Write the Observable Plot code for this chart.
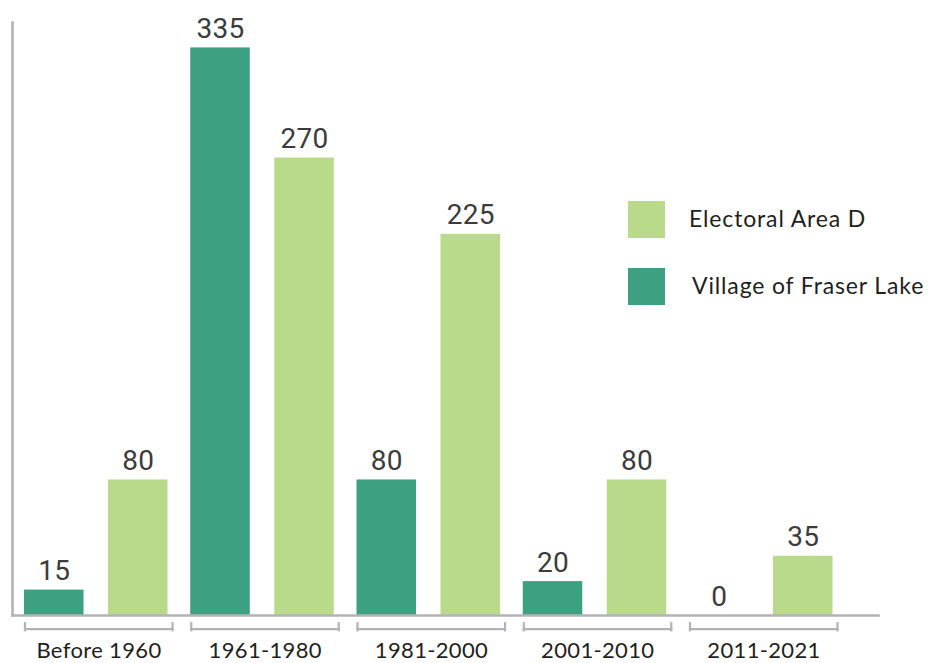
<!DOCTYPE html>
<html><head><meta charset="utf-8">
<script src="https://cdn.jsdelivr.net/npm/d3@7"></script>
<script src="https://cdn.jsdelivr.net/npm/@observablehq/plot@0.6"></script>
<style>
body{margin:0;background:#fff;}
#wrap{position:relative;width:928px;height:663px;overflow:hidden;}
#wrap svg{position:absolute;left:0;top:0;}
.sw{position:absolute;width:37px;height:37px;}
.lt{position:absolute;font-family:Lato,"Noto Sans",sans-serif;font-size:23px;letter-spacing:0.85px;color:#231f20;line-height:37px;white-space:nowrap;}
</style></head><body><div id="wrap"></div>
<script>
const categories = ["Before 1960", "1961-1980", "1981-2000", "2001-2010", "2011-2021"];
const seriesNames = ["Village of Fraser Lake", "Electoral Area D"];
const villageValues = [15, 335, 80, 20, 0];
const electoralValues = [80, 270, 225, 80, 35];
const seriesColors = ["#3da083", "#b8da8a"];
const legendOrder = ["Electoral Area D", "Village of Fraser Lake"];

const rows = categories.flatMap((c, i) => [
  {period: c, series: seriesNames[0], value: villageValues[i]},
  {period: c, series: seriesNames[1], value: electoralValues[i]}
]);

const gray = "#b3b3b7";
const chart = Plot.plot({
  width: 928, height: 663,
  marginTop: 22, marginBottom: 48, marginLeft: 12, marginRight: 50,
  facet: {marginTop: 0, marginBottom: 0, marginLeft: 0, marginRight: 0},
  style: {fontFamily: "Lato, 'Noto Sans', sans-serif", fontSize: "22px", letterSpacing: "0.35px", color: "#231f20", background: "transparent", overflow: "visible"},
  fx: {domain: categories, paddingInner: 0.10376, paddingOuter: 0.15638, align: 0.2308, round: false, label: null, axis: "bottom", tickSize: 0, tickPadding: 27},
  x: {domain: seriesNames, paddingInner: 0.2917, paddingOuter: 0.0327, align: 0, round: false, axis: null},
  y: {domain: [0, 350], axis: null},
  color: {domain: seriesNames, range: seriesColors},
  marks: [
    Plot.barY(rows, {fx: "period", x: "series", y: "value", fill: "series"}),
    Plot.text(rows, {fx: "period", x: "series", y: "value", text: d => String(d.value), lineAnchor: "bottom", dy: -10, fontSize: 28, fontFamily: "Roboto, sans-serif", fill: "#3c3c3c", style: "letter-spacing:0"}),
    Plot.frame({anchor: "bottom", insetBottom: -13.7, insetLeft: 0.5, insetRight: 1, stroke: gray, strokeWidth: 2.2}),
    Plot.frame({anchor: "left", insetTop: 600.7, insetBottom: -14.8, insetLeft: 0.5, stroke: gray, strokeWidth: 2.2}),
    Plot.frame({anchor: "right", insetTop: 600.7, insetBottom: -14.8, insetRight: 1, stroke: gray, strokeWidth: 2.2}),
    Plot.frame({anchor: "bottom", facet: "super", insetLeft: -12, insetRight: -40, stroke: gray, strokeWidth: 2.6}),
    Plot.frame({anchor: "left", facet: "super", insetLeft: -12, stroke: gray, strokeWidth: 2.6})
  ]
});
const wrap = document.getElementById("wrap");
wrap.appendChild(chart);

const legendTops = [201, 268];
const legendTextLeft = [689, 692];
legendOrder.forEach((name, i) => {
  const sw = document.createElement("div");
  sw.className = "sw";
  sw.style.left = "628px";
  sw.style.top = legendTops[i] + "px";
  sw.style.background = seriesColors[seriesNames.indexOf(name)];
  wrap.appendChild(sw);
  const t = document.createElement("div");
  t.className = "lt";
  t.style.left = legendTextLeft[i] + "px";
  t.style.top = (legendTops[i] - 1) + "px";
  t.textContent = name;
  wrap.appendChild(t);
});
</script>
</body></html>
